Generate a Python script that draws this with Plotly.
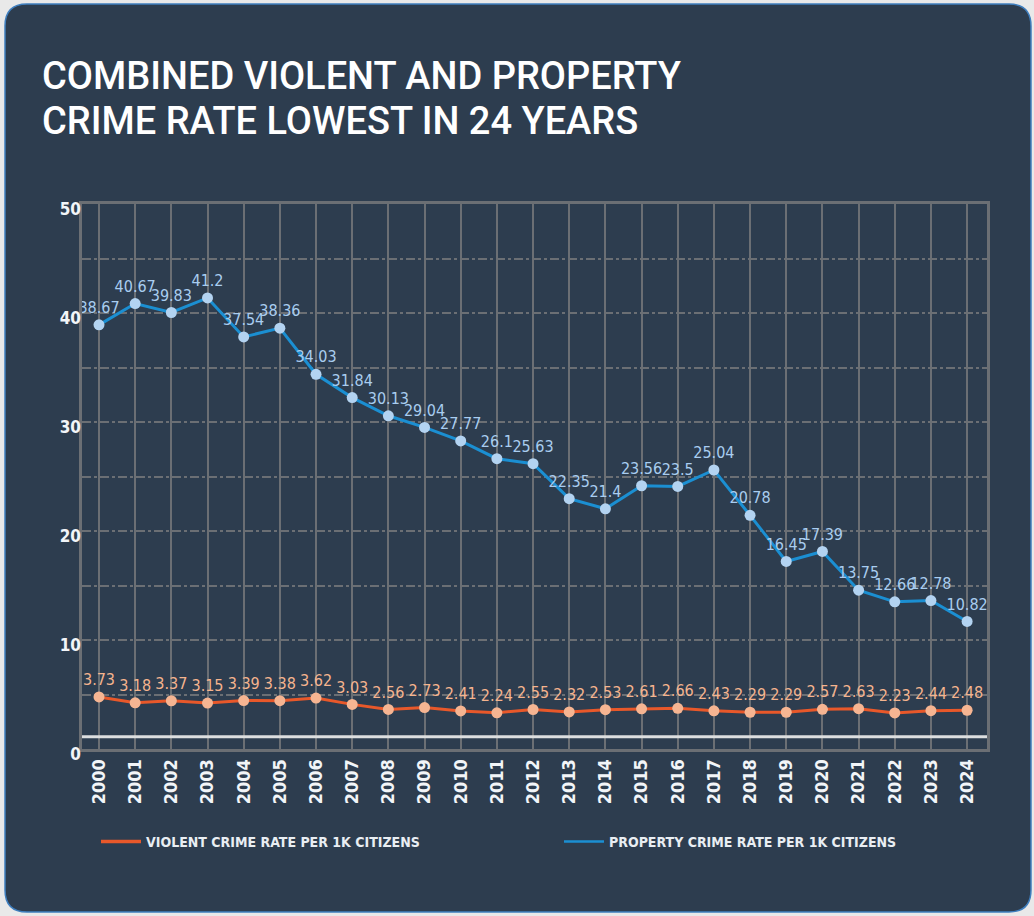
import plotly.graph_objects as go

years = list(range(2000, 2025))
violent = [3.73, 3.18, 3.37, 3.15, 3.39, 3.38, 3.62, 3.03, 2.56, 2.73, 2.41, 2.24, 2.55,
           2.32, 2.53, 2.61, 2.66, 2.43, 2.29, 2.29, 2.57, 2.63, 2.23, 2.44, 2.48]
property_ = [38.67, 40.67, 39.83, 41.2, 37.54, 38.36, 34.03, 31.84, 30.13, 29.04, 27.77, 26.1,
             25.63, 22.35, 21.4, 23.56, 23.5, 25.04, 20.78, 16.45, 17.39, 13.75, 12.66, 12.78, 10.82]
y_ticks = [0, 10, 20, 30, 40, 50]
title_lines = ["COMBINED VIOLENT AND PROPERTY", "CRIME RATE LOWEST IN 24 YEARS"]
series_names = ["VIOLENT CRIME RATE PER 1K CITIZENS", "PROPERTY CRIME RATE PER 1K CITIZENS"]

W, H = 1034, 916
ML, MR, MT, MB = 82, 47, 204, 167
PW, PH = W - ML - MR, H - MT - MB

def px(x):
    return (x - ML) / PW

def py(y):
    return (H - MB - y) / PH

PANEL = "#2d3d4f"
GRID = "#6b6f74"
NARROW = "Liberation Sans Narrow, DejaVu Sans Condensed, Arial Narrow, sans-serif"

VIOLENT_LINE = "#e8582a"
VIOLENT_MARK = "#f6b592"
PROP_LINE = "#1b8fd2"
PROP_MARK = "#b3d3f1"

fig = go.Figure()

fig.add_trace(go.Scatter(
    x=years, y=property_, mode="lines+markers+text",
    text=[f"{v:g}" for v in property_], textposition="top center",
    textfont=dict(family=NARROW, size=16, color="#a9cdf0"),
    line=dict(color=PROP_LINE, width=3),
    marker=dict(color=PROP_MARK, size=11),
    showlegend=False, cliponaxis=False,
))
fig.add_trace(go.Scatter(
    x=years, y=violent, mode="lines+markers+text",
    text=[f"{v:g}" for v in violent], textposition="top center",
    textfont=dict(family=NARROW, size=16, color="#f5b48e"),
    line=dict(color=VIOLENT_LINE, width=3),
    marker=dict(color=VIOLENT_MARK, size=11),
    showlegend=False, cliponaxis=False,
))
# legend entries (line only), each in its own legend box
fig.add_trace(go.Scatter(x=[None], y=[None], mode="lines", name=series_names[0],
                         line=dict(color=VIOLENT_LINE, width=3.5), legend="legend"))
fig.add_trace(go.Scatter(x=[None], y=[None], mode="lines", name=series_names[1],
                         line=dict(color=PROP_LINE, width=2.5), legend="legend2"))
# grid / tick axis
fig.add_trace(go.Scatter(x=[None], y=[None], yaxis="y2", showlegend=False, hoverinfo="skip"))

# rounded panel background
x0, x1, y0, y1, r = px(5), px(1031), py(4), py(912), 22
rx, ry = r / PW, r / PH
path = (f"M {x0+rx},{y0} L {x1-rx},{y0} Q {x1},{y0} {x1},{y0-ry} "
        f"L {x1},{y1+ry} Q {x1},{y1} {x1-rx},{y1} "
        f"L {x0+rx},{y1} Q {x0},{y1} {x0},{y1+ry} "
        f"L {x0},{y0-ry} Q {x0},{y0} {x0+rx},{y0} Z")
fig.add_shape(type="path", path=path, xref="paper", yref="paper",
              fillcolor=PANEL, line=dict(color="#3f7fbf", width=1.5), layer="below")
# white baseline
fig.add_shape(type="line", xref="paper", x0=0, x1=1, yref="y", y0=0, y1=0,
              line=dict(color="#dcdedf", width=3), layer="above")

# title as two lines
for line, yc in zip(title_lines, [76, 121]):
    fig.add_annotation(
        text=line, xref="paper", yref="paper", x=px(40), y=py(yc),
        xanchor="left", yanchor="middle", showarrow=False,
        font=dict(family="Roboto, sans-serif", size=38, color="#ffffff", weight=500),
    )

legend_font = dict(family=NARROW, size=14, color="#e9eef3", weight="bold")
fig.update_layout(
    width=W, height=H,
    margin=dict(l=ML, r=MR, t=MT, b=MB),
    paper_bgcolor="#e9e9e9",
    plot_bgcolor="rgba(0,0,0,0)",
    xaxis=dict(
        range=[1999.53, 2024.55], tickvals=years, ticktext=[str(y) for y in years],
        tickangle=-90, showgrid=True, gridcolor=GRID, gridwidth=1.5,
        showline=True, linecolor=GRID, linewidth=3, mirror=True,
        zeroline=False, ticks="",
        tickfont=dict(family=NARROW, size=18, color="#f2f5f8", weight="bold"),
    ),
    yaxis=dict(
        range=[-1.16, 50.02], showgrid=False, showticklabels=False, zeroline=False,
        showline=True, linecolor=GRID, linewidth=3, mirror=True, ticks="",
    ),
    yaxis2=dict(
        overlaying="y", side="left", range=[0, 50], tickvals=y_ticks,
        showgrid=True, gridcolor=GRID, gridwidth=1.5, griddash="dashdot",
        minor=dict(dtick=5, showgrid=True, gridcolor=GRID, gridwidth=1.5, griddash="dashdot"),
        zeroline=False, showline=False, ticks="", ticklabelshift=5,
        tickfont=dict(family=NARROW, size=17, color="#f2f5f8", weight="bold"),
    ),
    legend=dict(
        orientation="h", x=px(96), xanchor="left", y=py(842), yanchor="middle",
        bgcolor="rgba(0,0,0,0)", font=legend_font, itemwidth=40,
    ),
    legend2=dict(
        orientation="h", x=px(559), xanchor="left", y=py(842), yanchor="middle",
        bgcolor="rgba(0,0,0,0)", font=legend_font, itemwidth=40,
    ),
)

fig.write_html("out.html")
